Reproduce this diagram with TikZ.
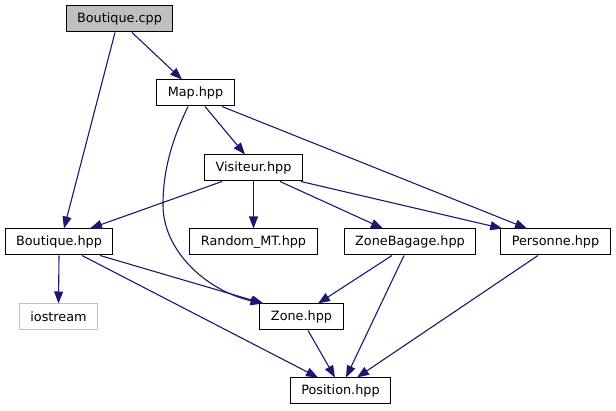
\documentclass[tikz,border=0pt]{standalone}
\usepackage{fontspec}
\setmainfont{DejaVu Sans}
\usetikzlibrary{arrows.meta}
\definecolor{midnight}{HTML}{191970}
\definecolor{boxgray}{HTML}{BFBFBF}
\begin{document}
\begin{tikzpicture}[x=1pt,y=-1pt,
  box/.style={draw=black, line width=1pt, minimum height=26pt, inner xsep=11pt, inner ysep=0pt,
    font=\fontsize{12.8}{15}\selectfont, text=black, anchor=center},
  edge/.style={draw=midnight, line width=1.1pt, -{Triangle[length=12pt,width=9pt]}}]
\path[use as bounding box, fill=white] (0,0) rectangle (616,411);

\node[box, fill=boxgray] (cpp) at (119.5,19) {Boutique.cpp};
\node[box] (map) at (195.5,93) {Map.hpp};
\node[box] (vis) at (253.5,168) {Visiteur.hpp};
\node[box] (bhpp) at (59,242) {Boutique.hpp};
\node[box] (rmt) at (253.5,242) {Random\_MT.hpp};
\node[box] (zb) at (410,242) {ZoneBagage.hpp};
\node[box] (pers) at (555.5,242) {Personne.hpp};
\node[box, draw=boxgray] (ios) at (58.5,317) {iostream};
\node[box] (zone) at (301.5,317) {Zone.hpp};
\node[box] (pos) at (340.5,391) {Position.hpp};

\draw[edge] ([xshift=12.5pt]cpp.south) -- ([xshift=-13.5pt]map.north);
\draw[edge] ([xshift=-4.5pt]cpp.south) -- ([xshift=5pt]bhpp.north);
\draw[edge] ([xshift=9.5pt]map.south) -- ([xshift=-8.5pt]vis.north);
\draw[edge] ([xshift=26.5pt]map.south) -- ([xshift=-28.5pt]pers.north);
\draw[edge] ([xshift=-7.5pt]map.south) .. controls (172,140) and (163,170) .. (163,205)
   .. controls (163,250) and (205,290) .. ([xshift=3pt]zone.north west);
\draw[edge] ([xshift=-31.5pt]vis.south) -- ([xshift=31pt]bhpp.north);
\draw[edge] (vis.south) -- (rmt.north);
\draw[edge] ([xshift=26.5pt]vis.south) -- ([xshift=-27pt]zb.north);
\draw[edge] ([xshift=-2pt]vis.south east) -- ([xshift=2pt]pers.north west);
\draw[edge] (bhpp.south) -- (ios.north);
\draw[edge] ([xshift=41pt]bhpp.south) -- ([xshift=4pt]zone.north west);
\draw[edge] ([xshift=23pt]bhpp.south) -- ([xshift=-22.5pt]pos.north);
\draw[edge] ([xshift=6.5pt]zone.south) -- ([xshift=-5.5pt]pos.north);
\draw[edge] ([xshift=-18pt]zb.south) -- ([xshift=16.5pt]zone.north);
\draw[edge] ([xshift=-6pt]zb.south) -- ([xshift=5.5pt]pos.north);
\draw[edge] ([xshift=-17.5pt]pers.south) -- ([xshift=16.5pt]pos.north);
\end{tikzpicture}
\end{document}
